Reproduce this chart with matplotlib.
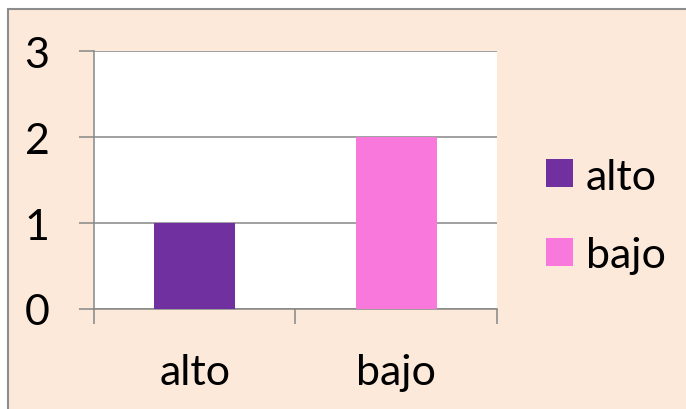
import matplotlib.pyplot as plt
from matplotlib.patches import Rectangle

categories = ['alto', 'bajo']
values = [1, 2]
colors = ['#7030A0', '#F878DC']
yticks = [0, 1, 2, 3]

W, H = 686, 410
fig = plt.figure(figsize=(W / 100, H / 100), dpi=100)
fig.patch.set_facecolor('white')

# peach chart area with grey border (only left/top visible)
fig.patches.append(Rectangle((8 / W, -0.1), 1.2, (H - 10) / H + 0.1, transform=fig.transFigure,
                             facecolor='#FDE9DA', edgecolor='#8C8C8C', linewidth=1.5, zorder=-1))

ax = fig.add_axes([94 / W, (H - 310) / H, (497 - 94) / W, (310 - 52) / H])
ax.set_facecolor('white')

for i, (c, v, col) in enumerate(zip(categories, values, colors)):
    ax.bar(i, v, width=0.4, color=col, label=c, zorder=3)

ax.set_xlim(-0.5, 1.5)
ax.set_ylim(0, 3)
ax.set_yticks(yticks)
ax.yaxis.grid(True, color='#868686', linewidth=1.1)
ax.set_axisbelow(True)

for s in ['top', 'right']:
    ax.spines[s].set_visible(False)
for s in ['left', 'bottom']:
    ax.spines[s].set_color('#868686')
    ax.spines[s].set_linewidth(1.1)

font = 'Lato'
fs = 31
ax.tick_params(axis='y', length=11, width=1.1, color='#868686', pad=21,
               labelsize=fs, labelfontfamily=font)
ax.set_xticks(range(len(categories)))
ax.set_xticklabels(categories, fontsize=fs, fontfamily=font)
ax.tick_params(axis='x', which='major', length=0, pad=32)
ax.set_xticks([-0.5, 0.5, 1.5], minor=True)
ax.tick_params(axis='x', which='minor', length=11, width=1.1, color='#868686')

leg = fig.legend(loc='center left', bbox_to_anchor=(529 / W, (H - 217) / H), frameon=False,
                 prop={'family': font, 'size': fs}, handlelength=0.62, handleheight=0.62,
                 handletextpad=0.3, labelspacing=0.95, borderaxespad=0)

fig.savefig('out.png', dpi=100)
